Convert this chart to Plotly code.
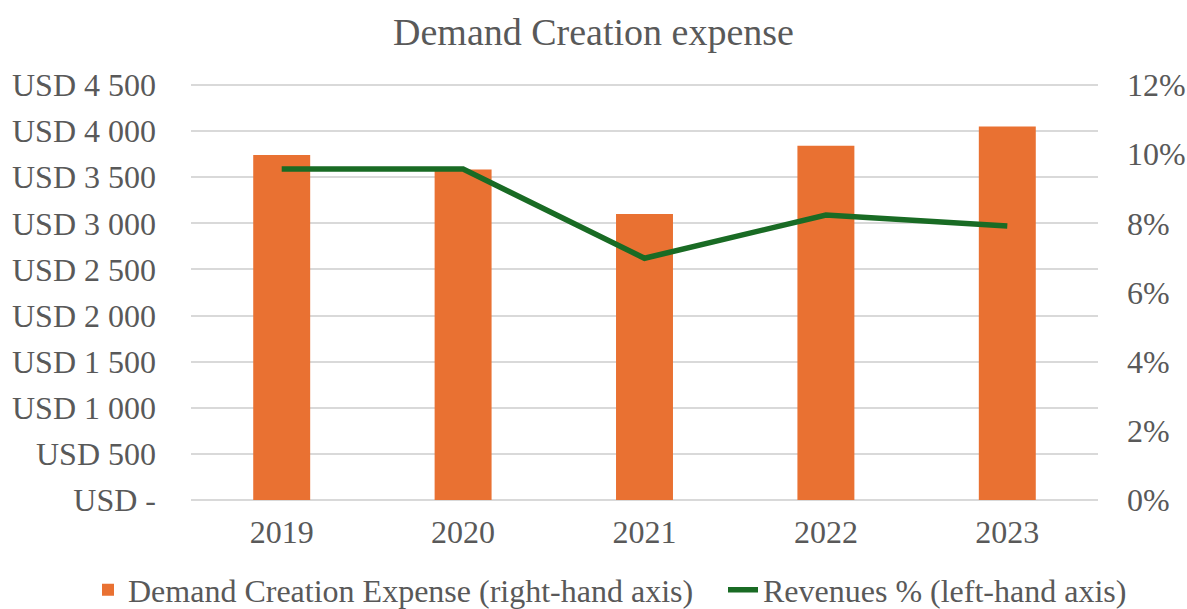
import plotly.graph_objects as go

years = ["2019", "2020", "2021", "2022", "2023"]
demand_creation_expense = [3740, 3585, 3100, 3840, 4050]
revenues_pct = [0.0957, 0.0957, 0.0699, 0.0824, 0.0792]

usd_tick_vals = [0, 500, 1000, 1500, 2000, 2500, 3000, 3500, 4000, 4500]
usd_tick_text = ["USD -", "USD 500", "USD 1 000", "USD 1 500", "USD 2 000",
                 "USD 2 500", "USD 3 000", "USD 3 500", "USD 4 000", "USD 4 500"]

FONT = "Liberation Serif, Times New Roman, serif"
TXT = "#595959"
ORANGE = "#E97132"
GREEN = "#196B24"

fig = go.Figure()
fig.add_trace(go.Bar(
    x=years, y=demand_creation_expense,
    name="Demand Creation Expense (right-hand axis)",
    marker=dict(color=ORANGE, line=dict(width=0)),
    yaxis="y", legend="legend",
))
fig.add_trace(go.Scatter(
    x=years, y=revenues_pct,
    name="Revenues % (left-hand axis)",
    mode="lines",
    line=dict(color=GREEN, width=5.5),
    yaxis="y2", legend="legend2",
))

legend_common = dict(orientation="h", xref="container", yref="container",
                     xanchor="left", y=(609 - 590) / 609, yanchor="middle",
                     font=dict(family=FONT, size=32, color=TXT),
                     itemwidth=30, bgcolor="rgba(0,0,0,0)")

# plot area: 0 at y=500, 4500 at y=85 (top margin 83 so the 4500 gridline is drawn)
fig.update_layout(
    width=1187, height=609,
    margin=dict(l=191, r=89, t=83, b=109, autoexpand=False),
    paper_bgcolor="white", plot_bgcolor="white",
    font=dict(family=FONT, size=32, color=TXT),
    title=dict(text="Demand Creation expense", x=0.5, xanchor="center",
               y=1 - 32 / 609, yanchor="middle",
               font=dict(family=FONT, size=38, color=TXT)),
    bargap=0.686,
    showlegend=True,
    legend=dict(x=88 / 1187, **legend_common),
    legend2=dict(x=723 / 1187, **legend_common),
    xaxis=dict(type="category", showgrid=False, showline=False, zeroline=False,
               ticks="", tickfont=dict(family=FONT, size=32, color=TXT),
               ticklabelstandoff=10),
    yaxis=dict(range=[0, 4521.7], tickvals=usd_tick_vals, ticktext=usd_tick_text,
               showgrid=True, gridcolor="#D9D9D9", gridwidth=1.5,
               zeroline=True, zerolinecolor="#D9D9D9", zerolinewidth=1.5,
               showline=False, ticks="", ticklabelstandoff=34,
               tickfont=dict(family=FONT, size=32, color=TXT)),
    yaxis2=dict(range=[0, 0.12 * 4521.7 / 4500], tickvals=[0, 0.02, 0.04, 0.06, 0.08, 0.10, 0.12],
                tickformat=".0%",
                overlaying="y", side="right", showgrid=False, zeroline=False,
                showline=False, ticks="", ticklabelstandoff=28,
                tickfont=dict(family=FONT, size=32, color=TXT)),
)

fig.write_html("out.html")
